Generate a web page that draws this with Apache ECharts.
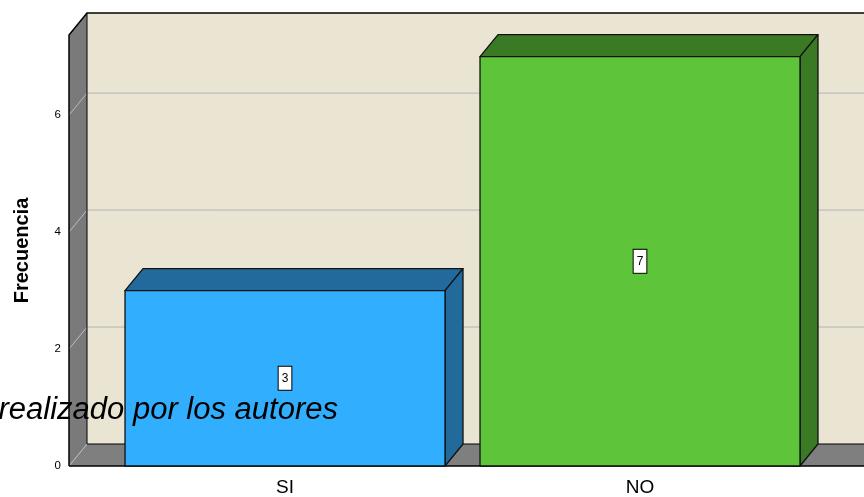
<!DOCTYPE html>
<html><head><meta charset="utf-8">
<script src="https://cdn.jsdelivr.net/npm/echarts@6/dist/echarts.min.js"></script>
<style>html,body{margin:0;padding:0;background:#fff}#c{width:864px;height:497px}</style>
</head><body><div id="c"></div>
<script>
const categories = ['SI', 'NO'];
const frequencies = [3, 7];
const yTicks = [0, 2, 4, 6];
const yAxisTitle = 'Frecuencia';
const noteText = 'realizado por los autores';

const frontColors = ['#32AEFF', '#5EC43A'];
const sideColors = ['#226A9C', '#3B7A24'];
const DX = 18, DY = -22;
const HALF = 0.4507;
const X_MIN = -0.6085, X_MAX = 1.631, Y_MAX = 7.37;

const chart = echarts.init(document.getElementById('c'));

function renderWalls(params, api) {
  const p0 = api.coord([X_MIN, 0]);
  const pT = api.coord([X_MIN, Y_MAX]);
  const pR = api.coord([X_MAX, 0]);
  const x0 = p0[0], y0 = p0[1], yT = pT[1], xR = pR[0] + 40;
  const ch = [];
  ch.push({type:'polygon', shape:{points:[[x0+DX,yT+DY],[xR+DX,yT+DY],[xR+DX,y0+DY],[x0+DX,y0+DY]]}, style:{fill:'#EAE4D2'}});
  ch.push({type:'polygon', shape:{points:[[x0,y0],[x0+DX,y0+DY],[x0+DX,yT+DY],[x0,yT]]}, style:{fill:'#7A7A7A'}});
  ch.push({type:'polygon', shape:{points:[[x0,y0],[x0+DX,y0+DY],[xR+DX,y0+DY],[xR,y0]]}, style:{fill:'#7F7F7F'}});
  yTicks.forEach(t => {
    const y = api.coord([X_MIN, t])[1];
    ch.push({type:'line', shape:{x1:x0, y1:y, x2:x0+DX, y2:y+DY}, style:{stroke:'#BDBDBD', lineWidth:1}});
    if (t > 0) ch.push({type:'line', shape:{x1:x0+DX, y1:y+DY, x2:xR+DX, y2:y+DY}, style:{stroke:'#B4B4B4', lineWidth:1}});
  });
  const k = {stroke:'#000', lineWidth:1.5, fill:null};
  ch.push({type:'polyline', shape:{points:[[x0,y0],[x0,yT],[x0+DX,yT+DY],[xR+DX,yT+DY]]}, style:k});
  ch.push({type:'line', shape:{x1:x0+DX,y1:yT+DY,x2:x0+DX,y2:y0+DY}, style:{stroke:'#000', lineWidth:1}});
  ch.push({type:'line', shape:{x1:x0+DX,y1:y0+DY,x2:xR+DX,y2:y0+DY}, style:{stroke:'#000', lineWidth:1}});
  ch.push({type:'line', shape:{x1:x0,y1:y0,x2:xR,y2:y0}, style:{stroke:'#000', lineWidth:1.5}});
  return {type:'group', children:ch};
}

function renderBar(params, api) {
  const i = api.value(0), v = api.value(1);
  const lt = api.coord([i - HALF, v]);
  const rb = api.coord([i + HALF, 0]);
  const xl = lt[0], yt = lt[1], xr = rb[0], yb = rb[1];
  const st = {stroke:'#111', lineWidth:1.3, lineJoin:'round'};
  const mid = api.coord([i, v / 2]);
  return {type:'group', children:[
    {type:'polygon', shape:{points:[[xl,yt],[xl+DX,yt+DY],[xr+DX,yt+DY],[xr,yt]]}, style:Object.assign({fill:sideColors[i]}, st)},
    {type:'polygon', shape:{points:[[xr,yt],[xr+DX,yt+DY],[xr+DX,yb+DY],[xr,yb]]}, style:Object.assign({fill:sideColors[i]}, st)},
    {type:'rect', shape:{x:xl, y:yt, width:xr-xl, height:yb-yt}, style:Object.assign({fill:frontColors[i]}, st)},
    {type:'text', x:mid[0], y:mid[1], style:{text:String(v), align:'center', verticalAlign:'middle', fontSize:12, fontFamily:'Liberation Sans, Arial, sans-serif', fill:'#000', backgroundColor:'#fff', borderColor:'#000', borderWidth:1, padding:[6,3,5,3]}}
  ]};
}

chart.setOption({
  animation:false,
  grid:{left:69, right:0, top:35, bottom:31},
  xAxis:{type:'value', min:X_MIN, max:X_MAX, splitLine:{show:false}, axisLine:{show:false}, axisTick:{show:false},
    axisLabel:{customValues:[0,1], formatter:v => categories[Math.round(v)], fontSize:19, color:'#000', margin:12, fontFamily:'Liberation Sans, Arial, sans-serif'}},
  yAxis:{type:'value', min:0, max:Y_MAX, interval:2, splitLine:{show:false}, axisLine:{show:false}, axisTick:{show:false},
    axisLabel:{customValues:yTicks, fontSize:11.5, color:'#000', margin:8, fontFamily:'Liberation Sans, Arial, sans-serif'},
    name:yAxisTitle, nameLocation:'middle', nameGap:37, nameRotate:90,
    nameTextStyle:{fontSize:20, fontWeight:'bold', color:'#000', fontFamily:'Liberation Sans, Arial, sans-serif'}},
  series:[
    {type:'custom', renderItem:renderWalls, data:[[0,0]], clip:false, z:1, silent:true},
    {type:'custom', renderItem:renderBar, data:frequencies.map((f,i)=>[i,f]), clip:false, z:2}
  ],
  graphic:[{type:'text', right:864-338, top:395, z:100, style:{text:noteText, font:'italic 31px "Liberation Sans", Arial, sans-serif', fill:'#000'}}]
});
</script></body></html>
